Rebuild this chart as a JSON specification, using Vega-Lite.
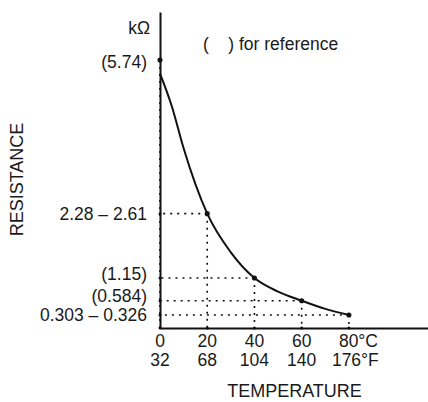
{
  "$schema": "https://vega.github.io/schema/vega-lite/v6.json",
  "width": 268,
  "height": 316,
  "autosize": {"type": "none"},
  "padding": {"left": 160, "top": 12, "right": 0, "bottom": 74},
  "background": "#ffffff",
  "config": {
    "view": {"stroke": null},
    "font": "Liberation Sans",
    "text": {"font": "Liberation Sans", "fontSize": 17.5, "fill": "#1a1a1a"}
  },
  "datasets": {
    "pts": [
      {"T": 0, "R": 5.74, "rlab": "(5.74)", "xl1": "0", "xl2": "32"},
      {"T": 20, "R": 2.45, "rlab": "2.28 – 2.61", "xl1": "20", "xl2": "68"},
      {"T": 40, "R": 1.07, "rlab": "(1.15)", "xl1": "40", "xl2": "104"},
      {"T": 60, "R": 0.584, "rlab": "(0.584)", "xl1": "60", "xl2": "140"},
      {"T": 80, "R": 0.28, "rlab": "0.303 – 0.326", "xl1": "80°C", "xl2": "176°F"}
    ],
    "curve": [
      {"T": 0, "R": 5.45},
      {"T": 5, "R": 4.75},
      {"T": 10, "R": 3.85},
      {"T": 20, "R": 2.45},
      {"T": 30, "R": 1.62},
      {"T": 40, "R": 1.07},
      {"T": 50, "R": 0.78},
      {"T": 60, "R": 0.584},
      {"T": 70, "R": 0.41},
      {"T": 80, "R": 0.28}
    ],
    "notes": [
      {"T": 0, "R": 6.4, "txt": "kΩ", "pos": "k"},
      {"T": 18.2, "R": 6.07, "txt": "(\u00a0\u00a0\u00a0\u00a0) for reference", "pos": "n"}
    ]
  },
  "layer": [
    {
      "data": {"name": "curve"},
      "mark": {"type": "line", "interpolate": "monotone", "stroke": "#111", "strokeWidth": 2},
      "encoding": {
        "x": {
          "field": "T", "type": "quantitative",
          "scale": {"domain": [0, 113.5], "nice": false, "zero": false},
          "axis": {"title": "TEMPERATURE", "labels": false, "ticks": false, "grid": false,
                   "domainColor": "#111", "domainWidth": 2, "titleFont": "Liberation Sans",
                   "titleFontSize": 18, "titleFontWeight": "normal", "titleColor": "#1a1a1a",
                   "titlePadding": 54}
        },
        "y": {
          "field": "R", "type": "quantitative",
          "scale": {"domain": [0, 6.77], "nice": false},
          "axis": {"title": "RESISTANCE", "labels": false, "ticks": false, "grid": false,
                   "domainColor": "#111", "domainWidth": 2, "titleFont": "Liberation Sans",
                   "titleFontSize": 18, "titleFontWeight": "normal", "titleColor": "#1a1a1a",
                   "titlePadding": 134, "titleY": 167}
        }
      }
    },
    {
      "data": {"name": "pts"},
      "mark": {"type": "rule", "stroke": "#111", "strokeWidth": 1.6, "strokeDash": [2, 5]},
      "encoding": {
        "x": {"field": "T", "type": "quantitative"},
        "x2": {"datum": 0},
        "y": {"field": "R", "type": "quantitative"}
      }
    },
    {
      "data": {"name": "pts"},
      "mark": {"type": "rule", "stroke": "#111", "strokeWidth": 1.6, "strokeDash": [2, 5]},
      "encoding": {
        "x": {"field": "T", "type": "quantitative"},
        "y": {"field": "R", "type": "quantitative"},
        "y2": {"datum": 0}
      }
    },
    {
      "data": {"name": "pts"},
      "mark": {"type": "point", "filled": true, "fill": "#111", "size": 26, "opacity": 1},
      "encoding": {
        "x": {"field": "T", "type": "quantitative"},
        "y": {"field": "R", "type": "quantitative"}
      }
    },
    {
      "data": {"name": "pts"},
      "mark": {"type": "point", "filled": true, "fill": "#111", "size": 9, "opacity": 1},
      "encoding": {
        "x": {"datum": 0, "type": "quantitative"},
        "y": {"field": "R", "type": "quantitative"}
      }
    },
    {
      "data": {"name": "pts"},
      "mark": {"type": "point", "filled": true, "fill": "#111", "size": 9, "opacity": 1},
      "encoding": {
        "x": {"field": "T", "type": "quantitative"},
        "y": {"datum": 0, "type": "quantitative"}
      }
    },
    {
      "data": {"name": "pts"},
      "transform": [{"filter": "datum.T == 0"}],
      "mark": {"type": "text", "align": "right", "baseline": "middle", "dx": -13, "dy": 3},
      "encoding": {
        "x": {"datum": 0, "type": "quantitative"},
        "y": {"field": "R", "type": "quantitative"},
        "text": {"field": "rlab"}
      }
    },
    {
      "data": {"name": "pts"},
      "transform": [{"filter": "datum.T == 20 || datum.T == 80"}],
      "mark": {"type": "text", "align": "right", "baseline": "middle", "dx": -13, "dy": 1},
      "encoding": {
        "x": {"datum": 0, "type": "quantitative"},
        "y": {"field": "R", "type": "quantitative"},
        "text": {"field": "rlab"}
      }
    },
    {
      "data": {"name": "pts"},
      "transform": [{"filter": "datum.T == 40 || datum.T == 60"}],
      "mark": {"type": "text", "align": "right", "baseline": "middle", "dx": -13, "dy": -3.5},
      "encoding": {
        "x": {"datum": 0, "type": "quantitative"},
        "y": {"field": "R", "type": "quantitative"},
        "text": {"field": "rlab"}
      }
    },
    {
      "data": {"name": "pts"},
      "transform": [{"filter": "datum.T < 80"}],
      "mark": {"type": "text", "align": "center", "baseline": "middle", "dy": 14},
      "encoding": {
        "x": {"field": "T", "type": "quantitative"},
        "y": {"datum": 0, "type": "quantitative"},
        "text": {"field": "xl1"}
      }
    },
    {
      "data": {"name": "pts"},
      "transform": [{"filter": "datum.T < 80"}],
      "mark": {"type": "text", "align": "center", "baseline": "middle", "dy": 33},
      "encoding": {
        "x": {"field": "T", "type": "quantitative"},
        "y": {"datum": 0, "type": "quantitative"},
        "text": {"field": "xl2"}
      }
    },
    {
      "data": {"name": "pts"},
      "transform": [{"filter": "datum.T == 80"}],
      "mark": {"type": "text", "align": "left", "baseline": "middle", "dy": 14, "dx": -10},
      "encoding": {
        "x": {"field": "T", "type": "quantitative"},
        "y": {"datum": 0, "type": "quantitative"},
        "text": {"field": "xl1"}
      }
    },
    {
      "data": {"name": "pts"},
      "transform": [{"filter": "datum.T == 80"}],
      "mark": {"type": "text", "align": "left", "baseline": "middle", "dy": 33, "dx": -17},
      "encoding": {
        "x": {"field": "T", "type": "quantitative"},
        "y": {"datum": 0, "type": "quantitative"},
        "text": {"field": "xl2"}
      }
    },
    {
      "data": {"name": "notes"},
      "transform": [{"filter": "datum.pos == 'k'"}],
      "mark": {"type": "text", "align": "right", "baseline": "middle", "dx": -10},
      "encoding": {
        "x": {"field": "T", "type": "quantitative"},
        "y": {"field": "R", "type": "quantitative"},
        "text": {"field": "txt"}
      }
    },
    {
      "data": {"name": "notes"},
      "transform": [{"filter": "datum.pos == 'n'"}],
      "mark": {"type": "text", "align": "left", "baseline": "middle", "fontSize": 17.5},
      "encoding": {
        "x": {"field": "T", "type": "quantitative"},
        "y": {"field": "R", "type": "quantitative"},
        "text": {"field": "txt"}
      }
    }
  ]
}
